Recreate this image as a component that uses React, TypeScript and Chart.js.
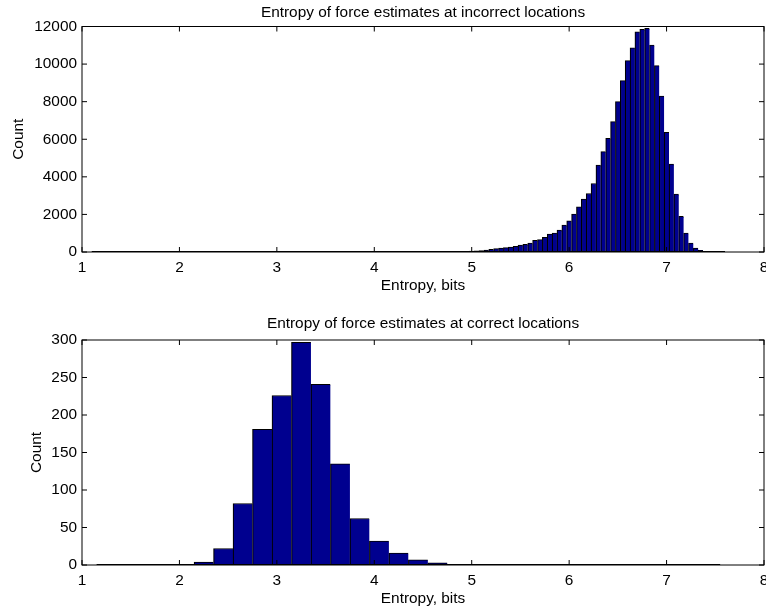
import React, { useEffect, useRef } from "react";
import { Chart, registerables } from "chart.js";

Chart.register(...registerables);

// ---------- DATA ----------
const incorrectBinCenters = [
  4.7, 4.75, 4.8, 4.85, 4.9, 4.95, 5.0, 5.05, 5.1, 5.15, 5.2, 5.25, 5.3, 5.35,
  5.4, 5.45, 5.5, 5.55, 5.6, 5.65, 5.7, 5.75, 5.8, 5.85, 5.9, 5.95, 6.0, 6.05,
  6.1, 6.15, 6.2, 6.25, 6.3, 6.35, 6.4, 6.45, 6.5, 6.55, 6.6, 6.65, 6.7, 6.75,
  6.8, 6.85, 6.9, 6.95, 7.0, 7.05, 7.1, 7.15, 7.2, 7.25, 7.3, 7.35, 7.4,
];
const incorrectCounts = [
  5, 8, 12, 18, 25, 35, 45, 60, 80, 105, 140, 177, 212, 230,
  265, 301, 372, 407, 478, 619, 655, 779, 956, 1009, 1168, 1434, 1664, 2018,
  2407, 2815, 3115, 3646, 4620, 5340, 6054, 6940, 8003, 9118, 10180, 10871, 11720, 11843,
  11896, 11009, 9915, 8300, 6373, 4673, 3080, 1896, 1009, 480, 215, 90, 22,
];
const incorrectRange = [1.1, 7.6];

const correctBinCenters = [
  2.25, 2.45, 2.65, 2.85, 3.05, 3.25, 3.45, 3.65, 3.85, 4.05, 4.25, 4.45, 4.65,
];
const correctCounts = [4, 22, 82, 181, 226, 297, 241, 135, 62, 32, 16, 7, 3];
const correctRange = [1.15, 7.55];

const xTickRange = [1, 8, 1];
const incorrectYTicks = [0, 12000, 2000];
const correctYTicks = [0, 300, 50];

const titles = [
  "Entropy of force estimates at incorrect locations",
  "Entropy of force estimates at correct locations",
];
const xLabel = "Entropy, bits";
const yLabel = "Count";

// ---------- STYLE ----------
const FONT = '"Liberation Sans", Arial, Helvetica, sans-serif';
const FONT_SIZE = 15.4;
const BAR_FILL = "#00008F";

const matlabAxes = {
  id: "matlabAxes",
  afterDraw(chart: any, _args: any, opts: any) {
    const { ctx, chartArea: a, scales } = chart;
    ctx.save();
    ctx.strokeStyle = "#000";
    ctx.lineWidth = 1;
    ctx.strokeRect(a.left, a.top, a.right - a.left, a.bottom - a.top);
    const L = 5;
    const line = (x1: number, y1: number, x2: number, y2: number) => {
      ctx.beginPath();
      ctx.moveTo(x1, y1);
      ctx.lineTo(x2, y2);
      ctx.stroke();
    };
    scales.x.ticks.forEach((t: any) => {
      const px = scales.x.getPixelForValue(t.value);
      line(px, a.bottom, px, a.bottom - L);
      line(px, a.top, px, a.top + L);
    });
    scales.y.ticks.forEach((t: any) => {
      const py = scales.y.getPixelForValue(t.value);
      line(a.left, py, a.left + L, py);
      line(a.right, py, a.right - L, py);
    });
    ctx.fillStyle = "#000";
    ctx.font = `${FONT_SIZE}px ${FONT}`;
    ctx.textAlign = "center";
    ctx.textBaseline = "middle";
    const cx = (a.left + a.right) / 2;
    ctx.fillText(opts.title, cx, a.top - opts.titleGap);
    ctx.fillText(opts.xLabel, cx, a.bottom + opts.xLabelGap);
    ctx.translate(opts.yLabelX, (a.top + a.bottom) / 2);
    ctx.rotate(-Math.PI / 2);
    ctx.fillText(opts.yLabel, 0, 0);
    ctx.restore();
  },
};

function Histogram(props: {
  centers: number[];
  counts: number[];
  range: number[];
  yTicks: number[];
  title: string;
  width: number;
  height: number;
  padTop: number;
  xAxisHeight: number;
  titleGap: number;
  yLabelX: number;
  top: number;
}) {
  const ref = useRef<HTMLCanvasElement | null>(null);
  useEffect(() => {
    if (!ref.current) return;
    const p = props;
    const chart = new Chart(ref.current, {
      type: "bar",
      data: {
        datasets: [
          {
            type: "line",
            data: p.range.map((x) => ({ x, y: 0 })),
            borderColor: "#000",
            borderWidth: 2,
            pointRadius: 0,
            order: 0,
          } as any,
          {
            type: "bar",
            data: p.centers.map((x, i) => ({ x, y: p.counts[i] })),
            backgroundColor: BAR_FILL,
            borderColor: "#000",
            borderWidth: { left: 1.2, top: 1, right: 0, bottom: 0 },
            borderSkipped: false,
            barPercentage: 1,
            categoryPercentage: 1,
            order: 1,
          } as any,
        ],
      },
      options: {
        animation: false,
        responsive: false,
        events: [],
        layout: { padding: { top: p.padTop, left: 0, right: 2, bottom: 0 } },
        plugins: {
          legend: { display: false },
          tooltip: { enabled: false },
          title: { display: false },
          matlabAxes: {
            title: p.title,
            xLabel,
            yLabel,
            titleGap: p.titleGap,
            xLabelGap: 33.5,
            yLabelX: p.yLabelX,
          },
        } as any,
        scales: {
          x: {
            type: "linear",
            min: xTickRange[0],
            max: xTickRange[1],
            offset: false,
            grid: { display: false, drawTicks: false, offset: false },
            border: { display: false },
            ticks: {
              stepSize: xTickRange[2],
              padding: 7,
              color: "#000",
              font: { family: FONT, size: FONT_SIZE },
              maxRotation: 0,
              autoSkip: false,
              callback: (v: any) => String(v),
            },
            afterFit: (s: any) => {
              s.height = p.xAxisHeight;
              s.paddingLeft = 0;
              s.paddingRight = 0;
            },
          },
          y: {
            type: "linear",
            min: p.yTicks[0],
            max: p.yTicks[1],
            grid: { display: false, drawTicks: false },
            border: { display: false },
            ticks: {
              stepSize: p.yTicks[2],
              padding: 5,
              color: "#000",
              font: { family: FONT, size: FONT_SIZE },
              callback: (v: any) => String(v),
            },
            afterFit: (s: any) => {
              s.width = 82;
              s.paddingTop = 0;
              s.paddingBottom = 0;
            },
          },
        },
      },
      plugins: [matlabAxes as any],
    });
    return () => chart.destroy();
  }, []);
  return (
    <canvas
      ref={ref}
      width={props.width}
      height={props.height}
      style={{ position: "absolute", left: 0, top: props.top, width: props.width, height: props.height }}
    />
  );
}

export default function App() {
  return (
    <div style={{ position: "absolute", left: 0, top: 0, width: 766, height: 611, background: "#fff", overflow: "hidden" }}>
      <Histogram
        centers={incorrectBinCenters}
        counts={incorrectCounts}
        range={incorrectRange}
        yTicks={incorrectYTicks}
        title={titles[0]}
        width={766}
        height={300}
        padTop={26.5}
        xAxisHeight={48}
        titleGap={13.5}
        yLabelX={19}
        top={0}
      />
      <Histogram
        centers={correctBinCenters}
        counts={correctCounts}
        range={correctRange}
        yTicks={correctYTicks}
        title={titles[1]}
        width={766}
        height={311}
        padTop={40}
        xAxisHeight={46}
        titleGap={16}
        yLabelX={37}
        top={300}
      />
    </div>
  );
}
